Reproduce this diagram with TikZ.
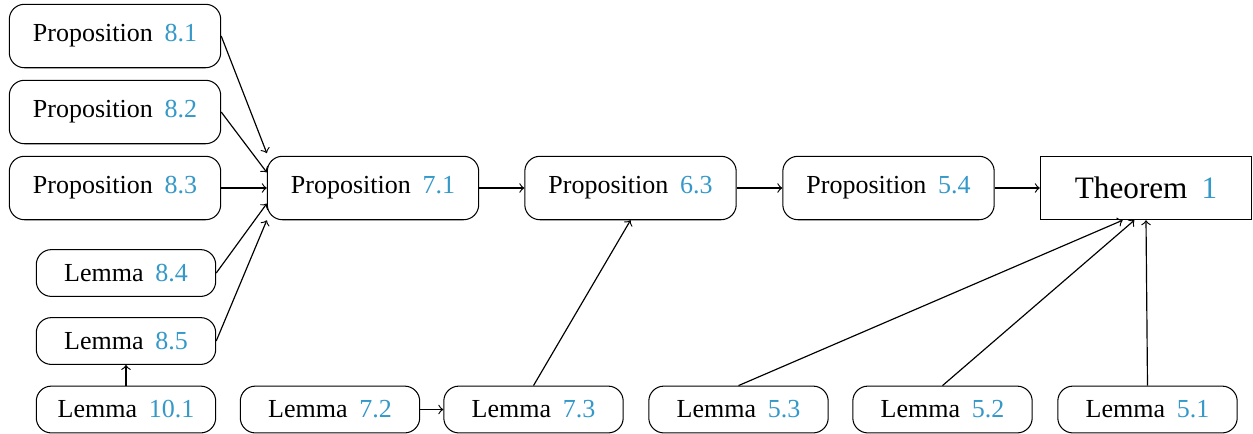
\documentclass[tikz,border=0pt]{standalone}
\usepackage{fontspec}
\setmainfont{Liberation Serif}
\definecolor{refblue}{RGB}{52,152,200}
\newcommand{\rf}[1]{\hspace{0.2em}\textcolor{refblue}{#1}}
\begin{document}
\begin{tikzpicture}[x=0.38462pt,y=-0.38462pt,
  propbox/.style={draw,rounded corners=5.8pt,minimum width=81.3pt,minimum height=24.4pt,inner sep=0pt,font=\fontsize{10}{12}\selectfont},
  lembox/.style={draw,rounded corners=5.8pt,minimum width=69pt,minimum height=18pt,inner sep=0pt,font=\fontsize{10}{12}\selectfont},
  thmbox/.style={draw,minimum width=81.3pt,minimum height=24.4pt,inner sep=0pt,font=\fontsize{12}{14}\selectfont},
  arr/.style={->,line width=0.45pt}]
\useasboundingbox (0,0) rectangle (1253,433);
\node[propbox] (p81) at (115,36) {Proposition \rf{8.1}};
\node[propbox] (p82) at (115,112) {Proposition \rf{8.2}};
\node[propbox] (p83) at (115,188) {Proposition \rf{8.3}};
\node[lembox] (l84) at (126,273) {Lemma \rf{8.4}};
\node[lembox] (l85) at (126,341) {Lemma \rf{8.5}};
\node[lembox] (l101) at (126,409.5) {Lemma \rf{10.1}};
\node[propbox] (p71) at (373,188) {Proposition \rf{7.1}};
\node[propbox] (p63) at (630.5,188) {Proposition \rf{6.3}};
\node[propbox] (p54) at (888.5,188) {Proposition \rf{5.4}};
\node[thmbox] (thm) at (1146,188) {Theorem \rf{1}};
\node[lembox] (l72) at (330,409.5) {Lemma \rf{7.2}};
\node[lembox] (l73) at (533.5,409.5) {Lemma \rf{7.3}};
\node[lembox] (l53) at (738.5,409.5) {Lemma \rf{5.3}};
\node[lembox] (l52) at (942.5,409.5) {Lemma \rf{5.2}};
\node[lembox] (l51) at (1147.5,409.5) {Lemma \rf{5.1}};
\draw[arr] (p81.east) -- ([yshift=1pt]p71.north west);
\draw[arr] (p82.east) -- ([yshift=6pt]p71.west);
\draw[arr] (p83.east) -- (p71.west);
\draw[arr] (l84.east) -- ([yshift=-6pt]p71.west);
\draw[arr] (l85.east) -- (p71.south west);
\draw[arr] (l101.north) -- (l85.south);
\draw[arr] (p71.east) -- (p63.west);
\draw[arr] (p63.east) -- (p54.west);
\draw[arr] (p54.east) -- (thm.west);
\draw[arr] (l72.east) -- (l73.west);
\draw[arr] (l73.north) -- (p63.south);
\draw[arr] (l53.north) -- ([xshift=-9pt]thm.south);
\draw[arr] (l52.north) -- ([xshift=-4.5pt]thm.south);
\draw[arr] (l51.north) -- (thm.south);
\end{tikzpicture}
\end{document}
